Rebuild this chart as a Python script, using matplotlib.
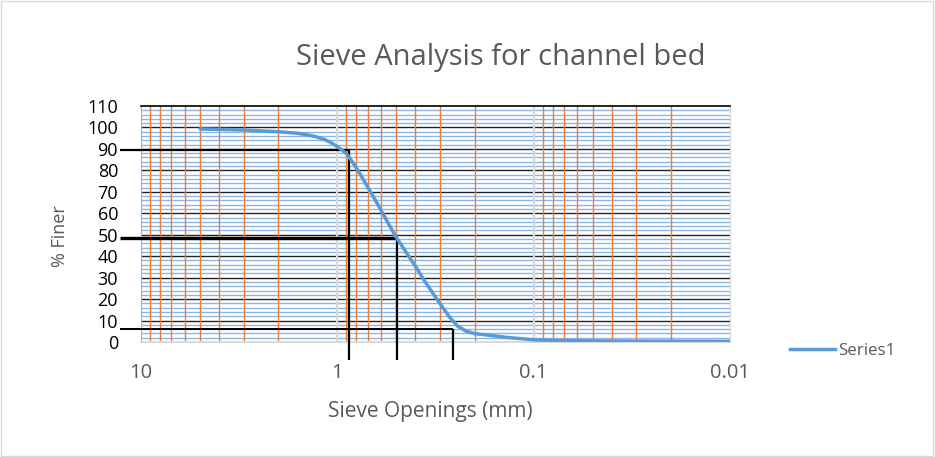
import matplotlib
matplotlib.use("Agg")
import matplotlib.pyplot as plt
from matplotlib.patches import Rectangle
from matplotlib.lines import Line2D
import numpy as np

plt.rcParams['font.family'] = ['Open Sans', 'DejaVu Sans']

# Data
sieve_mm = [5.0, 3.0, 2.0, 1.6, 1.43, 1.3, 1.17, 1.08, 1.0, 0.95, 0.89, 0.82, 0.76,
            0.63, 0.52, 0.496, 0.459, 0.392, 0.363, 0.298, 0.27, 0.245, 0.22, 0.20,
            0.17, 0.142, 0.10, 0.065, 0.03, 0.01]
pct_finer = [99.3, 98.8, 98.0, 97.3, 96.6, 95.8, 94.5, 93.0, 91.0, 89.6, 87.4, 82.6, 77.8,
             65.0, 51.3, 48.2, 43.5, 34.0, 29.0, 17.5, 12.0, 7.5, 5.0, 3.9,
             3.2, 2.3, 1.0, 0.6, 0.4, 0.3]

# Read-off guide lines (D90, D50, D10)
guide_size = [0.876, 0.496, 0.257]
guide_pct = [89.4, 48.5, 6.0]
guide_left = 12.8
guide_bottom = -8.5
guide_hwidths = [1.6, 2.4, 1.4]
guide_vwidths = [1.6, 1.6, 1.6]

x_ticks = [10, 1, 0.1, 0.01]
x_ticklabels = ["10", "1", "0.1", "0.01"]
y_ticks = list(range(0, 111, 10))

fig = plt.figure(figsize=(9.35, 4.57), dpi=100)
ax = fig.add_axes([141/935, 1-342/457, (730-141)/935, (342-106)/457])

ax.set_xscale('log')
ax.set_xlim(10, 0.01)
ax.set_ylim(0, 110)

# minor horizontal grid (every 2)
for v in np.arange(2, 110, 2):
    if v % 10 != 0:
        ax.axhline(v, color='#8DB6E2', lw=1.0, zorder=1)
# major horizontal
for v in y_ticks[1:-1]:
    ax.axhline(v, color='#222222', lw=1.0, zorder=1.5)
# vertical minor (orange) and major (gray)
for dec in [1, 0.1, 0.01]:
    for m in range(2, 10):
        ax.axvline(dec*m, color='#ED7D31', lw=1.0, zorder=2)
for v in [1, 0.1]:
    ax.axvline(v, color='#D9D9D9', lw=1.6, zorder=2)

# guide lines
for s, p, wh, wv in zip(guide_size, guide_pct, guide_hwidths, guide_vwidths):
    ax.plot([guide_left, s], [p, p], color='black', lw=wh, clip_on=False, zorder=3,
            solid_capstyle='butt')
    ax.plot([s, s], [p, guide_bottom], color='black', lw=wv, clip_on=False, zorder=3,
            solid_capstyle='butt')

ax.plot(sieve_mm, pct_finer, color='#5B9BD5', lw=2.5, zorder=4,
        solid_capstyle='round', solid_joinstyle='round')

ax.set_xticks(x_ticks)
ax.set_xticklabels(x_ticklabels)
ax.xaxis.set_minor_locator(matplotlib.ticker.NullLocator())
ax.set_yticks(y_ticks)
ax.tick_params(axis='both', length=0)
ax.tick_params(axis='x', labelsize=14.5, labelcolor='#595959', pad=15)
ax.tick_params(axis='y', labelsize=13, labelcolor='black', pad=16.5)

ax.spines['top'].set_color('black')
ax.spines['top'].set_linewidth(1.2)
ax.spines['left'].set_color('#8DB6E2')
ax.spines['bottom'].set_color('#D9D9D9')
ax.spines['right'].set_color('#D9D9D9')
ax.spines['bottom'].set_linewidth(1.5)

fig.text(501/935, 1-57/457, "Sieve Analysis for channel bed", ha='center', va='center',
         fontsize=21, color='#595959')
fig.text(60/935, 1-236/457, "% Finer", rotation=90, ha='center', va='center',
         fontsize=13, color='#595959')
fig.text(430/935, 1-411/457, "Sieve Openings (mm)", ha='center', va='center',
         fontsize=15, color='#595959')

leg = fig.legend(handles=[Line2D([], [], color='#5B9BD5', lw=2.5)], labels=["Series1"],
                 loc='center left', bbox_to_anchor=(790/935, 1-351/457), frameon=False,
                 fontsize=12.2, handlelength=2.66, handletextpad=0.2, borderpad=0,
                 borderaxespad=0, labelcolor='#595959')

fig.patches.append(Rectangle((0.001, 0.002), 0.997, 0.995, transform=fig.transFigure,
                             fill=False, edgecolor='#D9D9D9', lw=1))

fig.savefig("out.png", dpi=100)
